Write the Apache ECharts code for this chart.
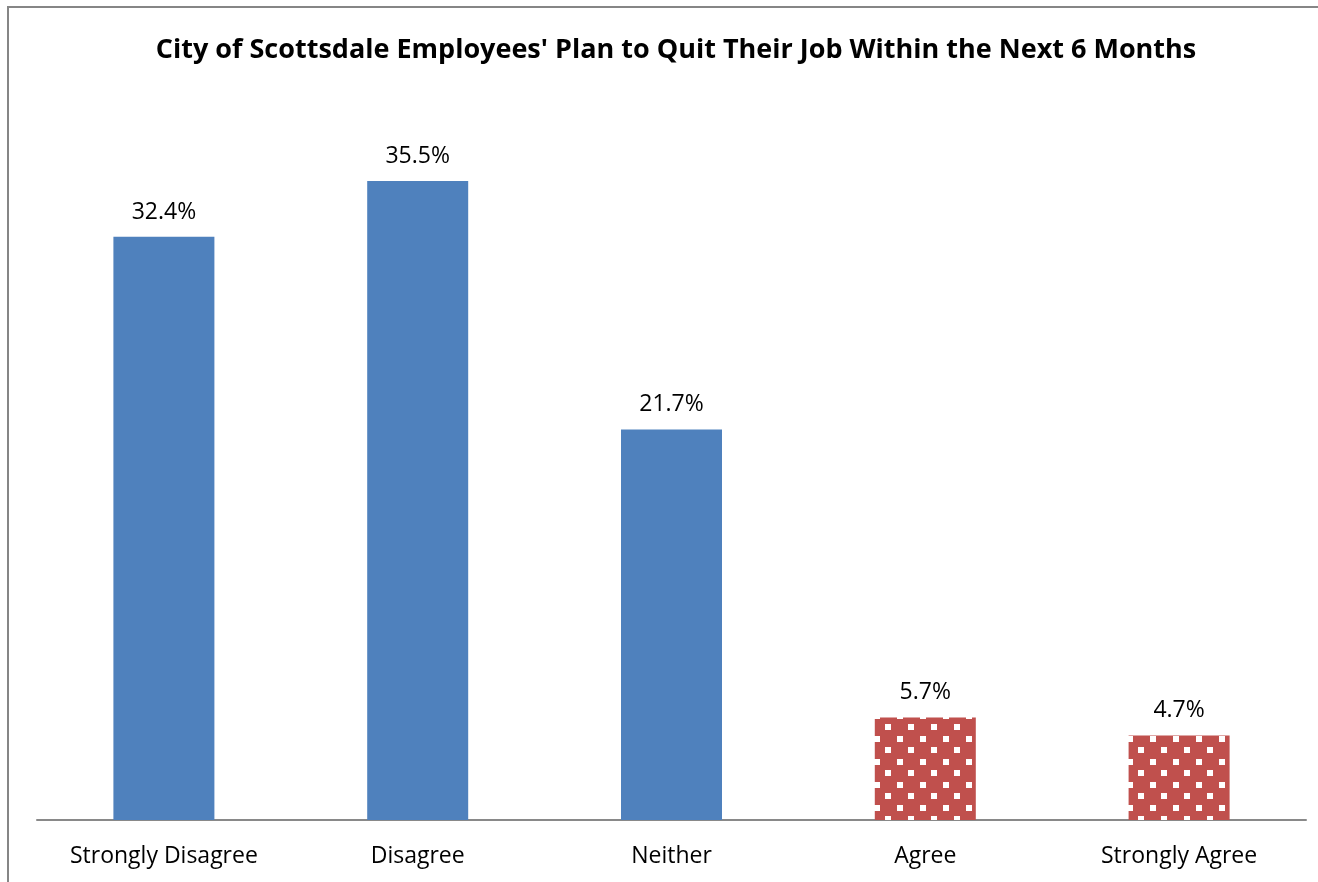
<!DOCTYPE html>
<html><head><meta charset="utf-8">
<script src="https://cdn.jsdelivr.net/npm/echarts@6/dist/echarts.min.js"></script>
<style>html,body{margin:0;padding:0;background:#fff;}#c{width:1318px;height:882px;}</style>
</head><body><div id="c"></div>
<script>
const categories = ['Strongly Disagree', 'Disagree', 'Neither', 'Agree', 'Strongly Agree'];
const values = [32.4, 35.5, 21.7, 5.7, 4.7];
const patterned = [false, false, false, true, true];
const titleText = "City of Scottsdale Employees' Plan to Quit Their Job Within the Next 6 Months";

function makePattern() {
  const c = document.createElement('canvas');
  c.width = 23; c.height = 23;
  const g = c.getContext('2d');
  g.fillStyle = '#C0504D'; g.fillRect(0, 0, 23, 23);
  g.fillStyle = '#FFFFFF';
  g.fillRect(0, 0, 6, 6);
  g.fillRect(11, 11, 6, 6);
  return c;
}
const pat = makePattern();

const chart = echarts.init(document.getElementById('c'));
chart.setOption({
  animation: false,
  backgroundColor: '#fff',
  title: { text: titleText, left: 671, top: 32, textAlign: 'center',
    textStyle: { fontFamily: 'Open Sans', fontWeight: 'bold', fontSize: 27, color: '#000' } },
  grid: { left: 37, right: 12, top: 100, bottom: 62 },
  xAxis: { type: 'category', data: categories,
    axisLine: { lineStyle: { color: '#898989', width: 2 } },
    axisTick: { show: false },
    axisLabel: { fontFamily: 'Open Sans', fontSize: 23, color: '#000', margin: 25 } },
  yAxis: { type: 'value', min: 0, max: 40, show: false, splitLine: { show: false } },
  series: [{
    type: 'bar', barWidth: 101,
    data: values.map((v, i) => ({ value: v, itemStyle: { color: patterned[i] ? { image: pat, repeat: 'repeat' } : '#4F81BD' } })),
    label: { show: true, position: 'top', distance: 13, formatter: p => p.value.toFixed(1) + '%',
      fontFamily: 'Open Sans', fontSize: 23, color: '#000' }
  }],
  graphic: [{ type: 'rect', shape: { x: 8, y: 7, width: 1340, height: 900 },
    style: { fill: null, stroke: '#868686', lineWidth: 2 }, silent: true }]
});
</script></body></html>
